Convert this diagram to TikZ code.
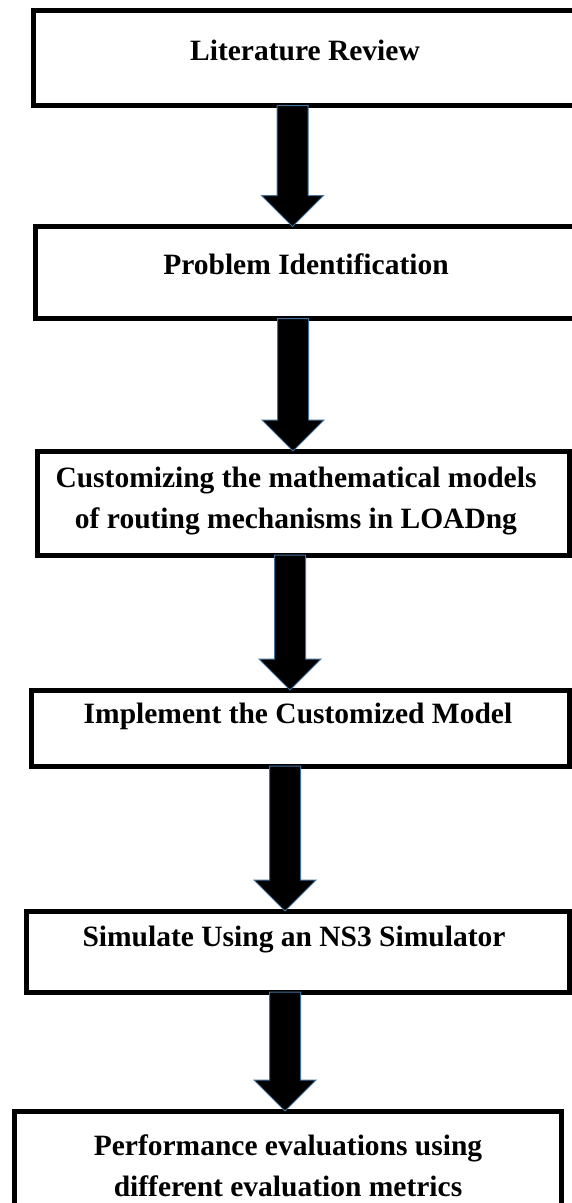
\documentclass[tikz,border=0pt]{standalone}
\usepackage{fontspec}
\setmainfont{Liberation Serif}
\usetikzlibrary{calc}
\definecolor{arrowedge}{HTML}{41719C}
\tikzset{
  stepbox/.style={draw=black, line width=5pt, rectangle, inner sep=0pt, outer sep=0pt, anchor=north west},
  steptext/.style={font=\bfseries\fontsize{29.5}{41}\selectfont, align=center, inner sep=0pt},
  blockarrow/.style={fill=black, draw=arrowedge, line width=1pt, line join=miter}
}
% block arrow: #1 = x of the shaft centre, #2 = source box, #3 = target box
\newcommand\flowarrow[3]{%
  \path[blockarrow] let \p1=(#2.south), \p2=(#3.north) in
    (#1-15.5,\y1) -- (#1+15.5,\y1) -- (#1+15.5,\y2+31) -- (#1+31,\y2+31)
    -- (#1,\y2) -- (#1-31,\y2+31) -- (#1-15.5,\y2+31) -- cycle;
}
\begin{document}
\begin{tikzpicture}[x=1pt,y=-1pt]
  \useasboundingbox (0,0) rectangle (572,1203);
  \clip (0,0) rectangle (572,1203);
  \fill[white] (0,0) rectangle (572,1203);

  % process boxes
  \node[stepbox, minimum width=560pt, minimum height=95.5pt] (b1) at (33.5,10) {};
  \node[stepbox, minimum width=560pt, minimum height=92pt]   (b2) at (35,226.5) {};
  \node[stepbox, minimum width=532pt, minimum height=104pt]  (b3) at (37,451) {};
  \node[stepbox, minimum width=538pt, minimum height=76pt]   (b4) at (31,690) {};
  \node[stepbox, minimum width=543pt, minimum height=81pt]   (b5) at (26,911) {};
  \node[stepbox, minimum width=547pt, minimum height=110pt]  (b6) at (14,1111) {};

  % box captions
  \node[steptext] (t1) at (305,50)  {Literature Review};
  \node[steptext] (t2) at (306,264) {Problem Identification};
  \node[steptext] (t3) at (296,501) {Customizing the mathematical models\\of routing mechanisms in LOADng};
  \node[steptext] (t4) at (298,716) {Implement the Customized Model};
  \node[steptext] (t5) at (294,940) {Simulate Using an NS3 Simulator};
  \node[steptext] (t6) at (288,1166) {Performance evaluations using\\different evaluation metrics};

  % connecting arrows
  \flowarrow{292.5}{b1}{b2}
  \flowarrow{293}{b2}{b3}
  \flowarrow{290}{b3}{b4}
  \flowarrow{285}{b4}{b5}
  \flowarrow{285}{b5}{b6}
\end{tikzpicture}
\end{document}
